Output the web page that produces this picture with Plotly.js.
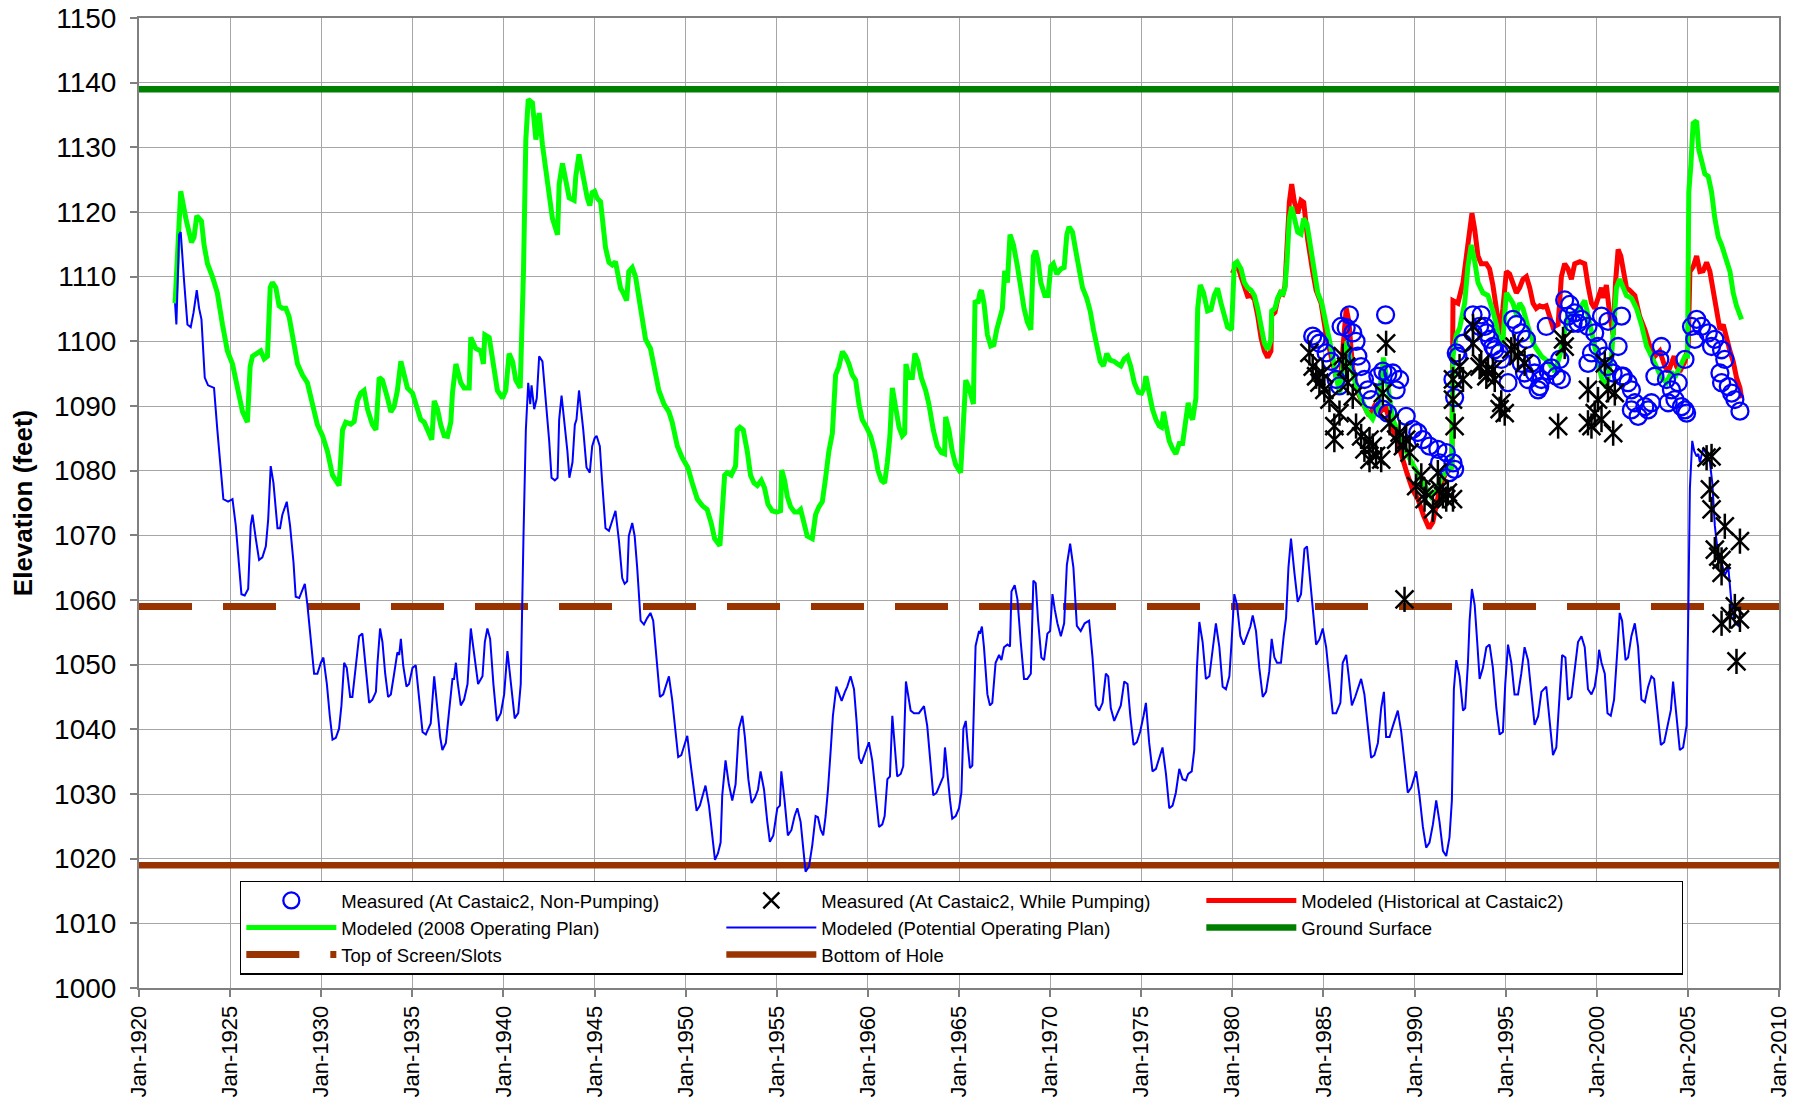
<!DOCTYPE html>
<html><head><meta charset="utf-8">
<script src="https://cdn.plot.ly/plotly-3.0.1.min.js"></script>
<style>html,body{margin:0;padding:0;background:#fff}#chart{width:1797px;height:1102px}</style>
</head><body><div id="chart"></div>
<script>
// ---- Modeled (2008 Operating Plan) ----
const planYears = [1921.98,1922.29,1922.57,1922.88,1923.02,1923.17,1923.30,1923.43,1923.57,1923.76,1924.03,1924.30,1924.58,1924.85,1925.13,1925.40,1925.68,1925.95,1926.10,1926.23,1926.50,1926.68,1926.87,1927.05,1927.20,1927.32,1927.51,1927.69,1927.87,1928.06,1928.24,1928.42,1928.70,1928.97,1929.24,1929.52,1929.79,1930.07,1930.34,1930.62,1930.98,1931.17,1931.35,1931.62,1931.81,1931.99,1932.17,1932.35,1932.54,1932.81,1933.00,1933.18,1933.36,1933.64,1933.82,1934.00,1934.18,1934.37,1934.55,1934.73,1935.01,1935.28,1935.46,1935.65,1935.83,1936.07,1936.20,1936.38,1936.56,1936.75,1936.93,1937.11,1937.20,1937.39,1937.66,1937.84,1938.12,1938.21,1938.48,1938.76,1938.90,1938.98,1939.22,1939.40,1939.67,1939.95,1940.13,1940.31,1940.50,1940.68,1940.92,1941.10,1941.23,1941.36,1941.59,1941.78,1941.96,1942.14,1942.42,1942.69,1942.97,1943.06,1943.24,1943.42,1943.61,1943.88,1943.97,1944.15,
1944.41,1944.60,1944.74,1944.87,1945.00,1945.15,1945.33,1945.48,1945.60,1945.79,1945.97,1946.15,1946.28,1946.43,1946.57,1946.76,1946.88,1947.07,1947.25,1947.43,1947.62,1947.80,1948.07,1948.29,1948.53,1948.81,1949.08,1949.26,1949.54,1949.81,1950.12,1950.36,1950.64,1950.91,1951.18,1951.40,1951.59,1951.88,1952.01,1952.14,1952.28,1952.50,1952.74,1952.83,1952.98,1953.16,1953.38,1953.56,1953.75,1953.93,1954.15,1954.33,1954.52,1954.75,1954.99,1955.21,1955.27,1955.43,1955.58,1955.76,1955.98,1956.16,1956.31,1956.49,1956.67,1956.95,1957.13,1957.31,1957.50,1957.68,1957.86,1958.05,1958.23,1958.41,1958.60,1958.78,1958.96,1959.14,1959.33,1959.51,1959.69,1959.93,1960.15,1960.37,1960.55,1960.74,1960.92,1961.07,1961.21,1961.34,1961.52,1961.71,1961.89,1962.02,1962.09,1962.26,1962.44,1962.58,1962.75,1962.93,1963.17,1963.35,1963.59,1963.81,1964.03,1964.21,1964.27,1964.45,1964.63,1964.82,1965.09,1965.24,1965.37,1965.55,1965.79,1965.88,1966.04,1966.15,
1966.23,1966.37,1966.56,1966.74,1966.92,1967.07,1967.25,1967.38,1967.51,1967.66,1967.80,1967.99,1968.21,1968.39,1968.57,1968.75,1968.94,1969.08,1969.21,1969.34,1969.49,1969.71,1969.89,1970.04,1970.18,1970.37,1970.59,1970.77,1970.92,1971.04,1971.23,1971.41,1971.59,1971.78,1972.01,1972.20,1972.38,1972.56,1972.75,1972.93,1973.11,1973.30,1973.52,1973.70,1973.88,1974.07,1974.25,1974.43,1974.62,1974.84,1975.02,1975.16,1975.26,1975.44,1975.62,1975.81,1975.99,1976.12,1976.23,1976.36,1976.54,1976.72,1976.90,1977.09,1977.27,1977.45,1977.58,1977.69,1977.82,1978.00,1978.10,1978.24,1978.42,1978.64,1978.83,1979.01,1979.19,1979.38,1979.56,1979.74,1979.96,1980.11,1980.26,1980.48,1980.66,1980.84,1981.03,1981.21,1981.39,1981.58,1981.76,1981.94,1982.12,1982.16,1982.34,1982.49,1982.64,1982.77,1982.89,1983.00,1983.13,1983.26,1983.41,1983.59,1983.77,1983.92,1984.10,1984.32,1984.51,1984.69,1984.91,1985.24,1985.51,1985.70,1985.90,1986.10,1986.30,1986.55,1986.80,1987.10,1987.40,1987.70,1988.00,1988.30,1988.55,1988.80,1989.10,1989.40,1989.70,1990.00,1990.30,1990.60,1990.90,1991.20,1991.50,1991.80,1992.05,
1992.11,1992.29,1992.47,1992.75,1992.93,1993.11,1993.30,1993.48,1993.75,1994.03,1994.30,1994.49,1994.67,1994.85,1995.04,1995.22,1995.40,1995.59,1995.77,1995.95,1996.23,1996.59,1996.96,1997.33,1997.69,1997.97,1998.24,1998.42,1998.79,1999.07,1999.34,1999.62,1999.89,2000.26,2000.53,2000.81,2001.08,2001.26,2001.45,2001.63,2001.90,2002.18,2002.45,2002.73,2003.00,2003.28,2003.55,2003.83,2004.10,2004.29,2004.56,2004.84,2004.98,2005.05,2005.16,2005.29,2005.48,2005.60,2005.75,2005.93,2006.12,2006.30,2006.48,2006.67,2006.85,2007.12,2007.31,2007.49,2007.67,2007.95];
const planVals = [1105.9,1123.2,1119.0,1115.3,1116.1,1119.4,1119.0,1118.6,1114.9,1112.0,1110.0,1107.5,1102.6,1098.5,1096.5,1092.8,1089.1,1087.5,1096.1,1097.7,1098.1,1098.5,1097.3,1097.7,1108.3,1109.1,1108.3,1105.5,1105.1,1105.1,1103.8,1101.0,1096.5,1094.8,1093.6,1090.3,1087.1,1085.4,1083.0,1079.3,1077.7,1086.3,1087.5,1087.2,1087.6,1090.8,1092.0,1092.4,1089.5,1087.1,1086.3,1094.4,1094.0,1091.2,1089.1,1089.9,1092.4,1096.9,1094.4,1092.8,1092.0,1089.5,1087.9,1087.5,1086.3,1084.8,1090.8,1089.5,1087.1,1085.4,1085.3,1087.5,1092.0,1096.5,1093.6,1092.8,1092.8,1100.6,1098.9,1098.5,1096.5,1101.0,1100.6,1096.9,1092.4,1091.2,1092.4,1098.1,1096.9,1094.0,1092.8,1110.8,1131.2,1137.4,1136.9,1131.2,1135.3,1130.4,1124.7,1119.0,1116.5,1124.3,1127.5,1124.7,1122.2,1121.8,1125.5,1128.9,
1124.3,1122.2,1121.0,1123.0,1123.2,1122.1,1121.6,1118.1,1114.5,1112.2,1111.8,1112.3,1110.0,1108.2,1107.5,1106.3,1110.8,1111.4,1110.0,1106.7,1103.0,1100.3,1098.9,1096.1,1092.4,1090.3,1089.1,1087.5,1083.8,1082.0,1080.5,1078.1,1075.6,1074.6,1074.0,1071.9,1069.5,1068.4,1074.8,1079.3,1079.7,1079.3,1080.7,1086.3,1086.7,1086.3,1083.0,1079.3,1078.1,1077.7,1078.5,1077.3,1074.8,1073.8,1073.6,1073.8,1080.1,1078.5,1076.0,1074.4,1073.6,1073.6,1074.0,1071.5,1069.9,1069.5,1073.2,1074.4,1075.2,1078.9,1083.0,1085.8,1094.8,1096.1,1098.4,1097.7,1096.5,1094.8,1094.0,1090.3,1087.9,1086.7,1085.4,1083.0,1080.1,1078.5,1078.1,1081.3,1085.4,1092.8,1089.5,1086.7,1085.4,1085.8,1096.5,1094.4,1094.4,1098.1,1096.9,1094.4,1092.4,1090.3,1086.3,1083.8,1082.8,1082.6,1088.3,1086.3,1083.0,1080.9,1079.7,1086.3,1094.0,1092.8,1090.3,1106.3,1105.9,1107.5,
1107.9,1105.9,1101.0,1099.3,1099.5,1101.8,1103.8,1105.0,1110.9,1109.1,1116.5,1114.9,1111.6,1108.3,1105.1,1103.0,1101.8,1113.2,1114.0,1112.4,1109.1,1107.1,1107.1,1111.6,1112.0,1110.4,1111.2,1111.4,1116.5,1117.7,1116.9,1114.0,1110.8,1108.3,1106.7,1104.7,1101.8,1098.9,1096.9,1096.2,1098.1,1097.1,1096.9,1096.5,1096.2,1097.3,1097.7,1096.1,1093.6,1092.1,1092.0,1092.8,1094.6,1092.0,1089.5,1087.9,1086.9,1086.7,1089.1,1087.1,1084.6,1083.4,1082.6,1084.2,1084.2,1087.9,1090.5,1088.7,1087.9,1091.2,1105.1,1108.7,1107.5,1104.7,1104.9,1107.1,1108.2,1105.9,1103.8,1102.2,1101.8,1112.0,1112.3,1111.2,1109.1,1108.3,1107.9,1107.1,1105.1,1101.8,1099.7,1098.7,1100.2,1104.7,1105.1,1106.7,1107.5,1107.1,1108.3,1112.4,1119.0,1120.8,1119.0,1116.9,1116.6,1119.0,1118.1,1114.0,1110.4,1107.5,1105.9,1101.8,1097.7,1094.4,1092.0,1097.0,1100.0,1096.0,1093.0,1091.0,1089.0,1088.0,1090.0,1097.5,1092.0,1088.0,1086.0,1084.0,1082.0,1080.5,1079.0,1077.5,1076.0,1077.0,1079.0,1080.0,1080.5,
1097.7,1101.0,1102.0,1105.9,1111.6,1114.9,1112.4,1109.1,1107.5,1107.1,1104.7,1102.6,1099.3,1100.2,1107.5,1106.7,1105.9,1104.2,1105.9,1105.1,1102.2,1099.3,1097.7,1096.9,1095.3,1097.7,1101.8,1104.2,1104.2,1105.1,1106.3,1102.6,1098.5,1094.4,1092.8,1097.7,1108.3,1109.6,1108.3,1107.1,1106.7,1105.1,1102.6,1099.3,1097.7,1096.1,1094.4,1093.6,1095.3,1094.4,1096.1,1097.7,1097.7,1123.1,1127.1,1133.7,1134.1,1129.6,1128.0,1125.9,1125.5,1123.1,1119.0,1116.1,1114.9,1112.8,1110.8,1107.5,1105.5,1103.4];

// ---- Modeled (Historical at Castaic2) ----
const histYears = [1980.00,1980.26,1980.48,1980.66,1980.84,1981.03,1981.21,1981.39,1981.58,1981.76,1981.94,1982.12,1982.16,1982.34,1982.49,1982.64,1982.77,1982.89,1983.00,1983.13,1983.26,1983.41,1983.59,1983.77,1983.92,1984.14,1984.41,1984.60,1984.87,1985.15,1985.42,1985.70,1985.90,1986.10,1986.25,1986.40,1986.60,1986.90,1987.20,1987.50,1987.80,1988.10,1988.40,1988.70,1989.00,1989.30,1989.60,1989.90,1990.20,1990.50,1990.80,1991.00,1991.20,1991.40,1991.70,1992.05,1992.11,1992.38,1992.66,1992.93,1993.15,1993.30,1993.48,1993.66,1993.94,1994.12,1994.30,1994.49,1994.67,1994.85,1995.04,1995.22,1995.40,1995.59,1995.77,1995.95,1996.14,1996.32,1996.50,1996.68,1996.87,1997.05,1997.23,1997.42,1997.60,1997.88,1998.06,1998.24,1998.42,1998.61,1998.79,1999.07,1999.34,1999.52,1999.71,1999.89,2000.07,2000.26,2000.35,2000.53,2000.71,2000.90,2001.03,2001.17,2001.32,2001.45,2001.63,2001.81,2002.09,2002.36,2002.64,2002.91,2003.19,2003.46,2003.74,2003.92,2004.10,2004.25,2004.38,2004.56,2004.84,2005.02,2005.11,2005.29,2005.48,2005.66,2005.84,2006.03,2006.21,2006.39,2006.58,2006.76,2006.94,2007.12,2007.31,2007.49,2007.67,2007.86,2007.95];
const histVals = [1110.5,1112.0,1110.0,1108.5,1107.0,1107.1,1106.5,1104.0,1100.5,1098.5,1097.5,1098.5,1104.0,1104.5,1106.5,1107.5,1107.3,1108.5,1114.0,1121.5,1124.3,1121.5,1119.8,1121.8,1121.5,1115.7,1110.8,1107.9,1105.9,1101.0,1097.7,1094.4,1093.0,1101.0,1105.1,1103.0,1096.0,1092.0,1090.0,1088.5,1090.0,1089.0,1090.0,1087.0,1085.0,1082.0,1079.5,1077.0,1075.5,1073.0,1071.1,1072.0,1075.0,1077.5,1079.5,1080.5,1106.3,1105.9,1109.1,1115.7,1119.8,1117.3,1113.2,1112.0,1112.0,1111.2,1108.7,1105.1,1101.0,1105.1,1110.8,1110.4,1108.7,1107.5,1108.3,1109.6,1110.0,1108.3,1105.9,1105.1,1105.5,1105.3,1105.5,1103.4,1102.2,1102.6,1110.0,1112.0,1111.2,1109.6,1112.0,1112.3,1112.0,1108.7,1105.9,1105.1,1106.7,1108.3,1106.7,1108.7,1104.2,1101.0,1109.1,1114.2,1113.2,1110.8,1108.3,1107.9,1107.1,1103.8,1101.8,1099.3,1097.7,1098.5,1096.1,1095.3,1096.9,1097.7,1096.1,1095.3,1096.9,1099.3,1110.8,1111.5,1113.2,1110.8,1110.9,1112.2,1110.8,1107.5,1104.2,1101.8,1102.6,1100.2,1098.5,1096.9,1094.4,1092.8,1091.2];

// ---- Modeled (Potential Operating Plan) ----
const potYears = [1921.98,1922.05,1922.20,1922.29,1922.48,1922.66,1922.84,1922.99,1923.17,1923.30,1923.43,1923.61,1923.79,1924.12,1924.30,1924.49,1924.63,1924.89,1925.13,1925.31,1925.49,1925.62,1925.80,1925.99,1926.13,1926.23,1926.41,1926.59,1926.77,1926.96,1927.09,1927.23,1927.38,1927.60,1927.74,1927.87,1928.11,1928.29,1928.48,1928.60,1928.79,1928.97,1929.10,1929.24,1929.46,1929.61,1929.79,1929.98,1930.12,1930.31,1930.47,1930.62,1930.80,1930.98,1931.11,1931.26,1931.40,1931.59,1931.71,1931.90,1932.08,1932.26,1932.45,1932.63,1932.81,1933.00,1933.09,1933.23,1933.36,1933.51,1933.67,1933.82,1934.00,1934.18,1934.28,1934.37,1934.50,1934.68,1934.82,1935.01,1935.19,1935.37,1935.56,1935.74,1936.01,1936.20,1936.34,1936.53,1936.65,1936.84,1937.02,1937.20,1937.29,1937.39,1937.48,1937.66,1937.84,1938.03,1938.21,1938.39,1938.61,1938.85,1938.98,1939.12,1939.27,1939.45,1939.64,1939.86,1940.04,1940.22,1940.40,1940.62,1940.81,1940.95,1941.10,1941.23,1941.36,1941.47,1941.54,1941.69,1941.83,1941.96,1942.14,1942.33,1942.51,1942.64,1942.82,1942.97,1943.06,1943.19,1943.33,1943.51,1943.62,1943.79,1943.92,1944.01,1944.15,
1944.38,1944.56,1944.74,1944.87,1945.00,1945.11,1945.29,1945.42,1945.60,1945.79,1945.97,1946.15,1946.34,1946.52,1946.65,1946.79,1946.88,1947.07,1947.20,1947.34,1947.53,1947.71,1947.89,1948.07,1948.22,1948.40,1948.59,1948.77,1948.95,1949.08,1949.26,1949.45,1949.59,1949.76,1949.94,1950.09,1950.27,1950.45,1950.60,1950.78,1950.97,1951.09,1951.28,1951.46,1951.61,1951.77,1951.92,1952.01,1952.19,1952.37,1952.56,1952.74,1952.92,1953.11,1953.25,1953.44,1953.62,1953.80,1953.97,1954.11,1954.30,1954.48,1954.62,1954.81,1955.03,1955.17,1955.25,1955.43,1955.61,1955.80,1955.98,1956.13,1956.31,1956.45,1956.58,1956.77,1956.95,1957.13,1957.26,1957.41,1957.55,1957.68,1957.81,1957.96,1958.08,1958.27,1958.41,1958.56,1958.74,1958.87,1959.05,1959.24,1959.38,1959.51,1959.64,1959.82,1960.06,1960.24,1960.43,1960.61,1960.79,1960.92,1961.07,1961.21,1961.34,1961.47,1961.61,1961.80,1961.94,1962.09,1962.20,1962.35,1962.53,1962.80,1963.08,1963.26,1963.44,1963.59,1963.77,1963.96,1964.14,1964.23,1964.36,1964.51,1964.63,1964.82,1965.00,1965.13,1965.24,1965.37,1965.49,1965.60,1965.73,1965.82,1965.91,1966.10,
1966.15,1966.26,1966.37,1966.56,1966.70,1966.83,1967.01,1967.20,1967.33,1967.47,1967.66,1967.80,1967.88,1968.06,1968.21,1968.39,1968.57,1968.75,1968.94,1969.08,1969.21,1969.34,1969.52,1969.67,1969.85,1970.00,1970.13,1970.26,1970.40,1970.59,1970.77,1970.92,1971.10,1971.28,1971.47,1971.68,1971.90,1972.14,1972.33,1972.51,1972.69,1972.88,1973.06,1973.19,1973.33,1973.52,1973.70,1973.88,1974.07,1974.25,1974.40,1974.58,1974.76,1974.95,1975.13,1975.26,1975.44,1975.62,1975.81,1975.99,1976.17,1976.36,1976.54,1976.72,1976.90,1977.09,1977.27,1977.45,1977.58,1977.77,1977.91,1978.06,1978.19,1978.37,1978.55,1978.74,1978.92,1979.10,1979.29,1979.47,1979.65,1979.84,1979.96,1980.11,1980.26,1980.44,1980.62,1980.81,1980.99,1981.12,1981.30,1981.48,1981.67,1981.85,1982.03,1982.16,1982.31,1982.45,1982.67,1982.82,1982.95,1983.08,1983.22,1983.41,1983.59,1983.77,
1983.96,1984.10,1984.29,1984.47,1984.60,1984.78,1984.96,1985.15,1985.33,1985.51,1985.70,1985.93,1986.06,1986.25,1986.37,1986.56,1986.74,1986.92,1987.07,1987.25,1987.44,1987.62,1987.80,1987.99,1988.17,1988.32,1988.44,1988.63,1988.81,1989.08,1989.27,1989.45,1989.63,1989.82,1990.09,1990.27,1990.46,1990.64,1990.82,1991.01,1991.19,1991.37,1991.56,1991.74,1991.92,1992.05,1992.16,1992.29,1992.47,1992.66,1992.78,1992.93,1993.02,1993.15,1993.30,1993.44,1993.57,1993.75,1993.94,1994.12,1994.30,1994.49,1994.67,1994.85,1994.98,1995.13,1995.31,1995.49,1995.68,1995.86,1996.04,1996.23,1996.41,1996.59,1996.78,1996.96,1997.23,1997.42,1997.60,1997.78,1997.97,1998.10,1998.28,1998.42,1998.61,1998.79,1998.97,1999.16,1999.34,1999.52,1999.71,1999.89,2000.04,2000.13,2000.26,2000.44,2000.59,2000.77,2000.95,2001.14,2001.26,2001.39,2001.58,2001.72,2001.90,2002.09,2002.27,2002.45,2002.64,2002.82,2003.00,2003.15,2003.33,2003.52,2003.70,2003.88,2004.07,2004.19,2004.38,2004.56,2004.74,2004.93,2005.02,2005.11,2005.24,2005.35,2005.48,2005.57,2005.66,2005.84,2006.03,2006.21,2006.34,2006.48,2006.67,2006.85,2007.03,2007.22,2007.40,2007.58,2007.77,2007.91];
const potVals = [1105.9,1102.6,1116.5,1116.9,1109.1,1102.6,1102.2,1104.4,1107.9,1105.1,1103.4,1094.4,1093.2,1092.8,1086.3,1079.7,1075.6,1075.2,1075.6,1071.5,1065.0,1060.9,1060.7,1061.7,1071.5,1073.2,1069.5,1066.2,1066.6,1068.3,1072.4,1080.7,1078.1,1071.1,1071.1,1073.2,1075.2,1071.5,1065.8,1060.5,1060.3,1061.7,1062.5,1059.3,1053.5,1048.6,1048.6,1050.3,1051.1,1047.0,1042.1,1038.4,1038.7,1040.1,1043.7,1050.3,1049.5,1045.0,1045.0,1049.5,1054.4,1054.8,1049.5,1044.1,1044.6,1045.8,1050.3,1055.6,1053.5,1048.6,1045.0,1045.4,1048.6,1051.9,1051.5,1054.0,1049.9,1046.6,1047.0,1049.5,1049.9,1044.6,1039.6,1039.2,1040.9,1048.2,1044.6,1038.8,1036.8,1037.9,1042.9,1047.8,1047.8,1050.3,1047.4,1043.7,1044.6,1047.0,1055.6,1051.9,1047.0,1048.2,1053.5,1055.6,1054.0,1047.0,1041.3,1042.5,1045.4,1052.1,1047.4,1041.7,1042.5,1047.0,1069.9,1086.3,1093.6,1090.3,1093.2,1089.5,1091.2,1097.7,1096.9,1091.2,1084.6,1078.9,1078.5,1078.9,1087.9,1091.6,1087.9,1083.0,1078.9,1081.3,1087.1,1087.9,1092.4,
1086.3,1080.5,1079.7,1083.8,1085.0,1085.4,1083.8,1078.1,1071.1,1070.7,1072.4,1073.8,1069.1,1063.4,1062.5,1062.9,1069.9,1071.9,1069.9,1065.0,1056.8,1056.2,1057.2,1058.0,1056.8,1051.1,1045.0,1045.4,1047.0,1048.2,1044.6,1039.6,1035.7,1036.0,1037.6,1039.0,1034.7,1030.2,1027.4,1028.2,1030.2,1031.3,1028.2,1023.3,1019.8,1020.8,1022.5,1029.8,1035.2,1031.5,1029.0,1031.5,1040.1,1042.1,1038.8,1032.3,1028.6,1029.4,1030.7,1033.5,1030.7,1025.7,1022.6,1023.6,1027.8,1028.2,1033.5,1029.0,1023.6,1024.4,1026.6,1027.8,1025.7,1021.7,1018.0,1018.8,1022.1,1026.6,1026.4,1024.5,1023.6,1026.6,1030.7,1036.8,1042.1,1046.6,1045.4,1044.4,1045.8,1046.6,1048.2,1046.2,1041.3,1035.6,1034.7,1036.0,1038.0,1035.2,1029.4,1024.9,1025.3,1026.6,1032.3,1032.7,1042.1,1037.2,1032.7,1033.1,1034.3,1047.4,1045.4,1042.9,1042.5,1042.5,1043.6,1040.5,1034.7,1029.8,1030.2,1031.5,1032.7,1037.2,1033.1,1029.0,1026.2,1026.6,1027.8,1030.2,1040.1,1041.3,1037.2,1034.0,1034.4,1042.9,1052.9,1055.2,
1054.8,1055.9,1052.7,1045.4,1043.7,1044.1,1050.3,1051.5,1050.7,1052.7,1053.1,1052.8,1061.3,1062.3,1060.1,1053.5,1047.8,1047.8,1048.6,1063.0,1062.6,1056.8,1051.1,1050.7,1054.8,1055.2,1060.9,1058.5,1056.4,1054.4,1056.4,1065.4,1068.7,1065.0,1056.0,1055.2,1056.4,1056.8,1051.1,1043.7,1042.9,1044.1,1048.6,1048.2,1043.3,1041.3,1042.5,1043.7,1047.4,1047.0,1042.1,1037.6,1038.0,1039.7,1042.1,1044.1,1037.9,1033.5,1033.9,1035.6,1037.2,1033.1,1027.8,1028.2,1030.2,1033.9,1032.3,1032.1,1033.1,1033.5,1036.8,1049.5,1056.6,1053.5,1047.8,1048.2,1051.9,1056.4,1052.7,1046.6,1046.2,1048.2,1053.5,1060.9,1059.2,1054.4,1053.1,1054.4,1055.9,1057.6,1055.2,1049.5,1045.0,1045.8,1049.0,1054.0,1051.1,1050.3,1050.3,1054.4,1057.2,1065.0,1069.5,1064.2,1059.7,1060.9,
1067.9,1068.3,1062.5,1057.6,1053.1,1053.9,1055.6,1052.7,1047.0,1042.5,1042.5,1044.1,1050.3,1051.5,1048.6,1043.7,1045.0,1046.6,1047.8,1045.4,1040.5,1035.6,1036.0,1037.9,1043.3,1045.8,1038.8,1038.8,1040.5,1042.9,1039.6,1034.7,1030.2,1031.0,1033.5,1029.8,1024.9,1021.7,1022.5,1025.3,1029.0,1025.7,1021.2,1020.4,1023.3,1029.0,1046.2,1050.7,1048.2,1042.9,1043.3,1050.3,1056.8,1061.7,1059.2,1053.5,1047.8,1049.5,1052.7,1053.1,1049.5,1043.3,1039.2,1039.6,1047.0,1053.1,1050.3,1045.4,1045.4,1048.6,1052.7,1050.7,1045.4,1040.7,1042.0,1045.8,1046.6,1040.7,1036.0,1037.2,1045.4,1051.5,1051.1,1044.6,1045.0,1049.5,1053.5,1054.4,1052.7,1046.2,1045.4,1046.6,1049.5,1052.3,1050.3,1048.6,1042.5,1042.1,1044.6,1052.7,1058.0,1056.8,1050.7,1051.1,1054.4,1056.4,1052.7,1044.6,1044.2,1046.6,1048.2,1047.8,1043.3,1037.6,1038.0,1040.5,1043.0,1047.4,1042.1,1036.8,1037.2,1040.6,1057.6,1077.3,1084.6,1083.0,1082.2,1082.6,1081.3,1083.4,1082.6,1081.3,1078.1,1071.5,1066.6,1065.8,1063.8,1065.0,1059.3,1056.4,1056.0,1058.0];

// ---- Measured (At Castaic2, Non-Pumping) ----
const nonPumpYears = [1984.41,1984.60,1984.78,1985.15,1985.42,1985.70,1985.88,1985.97,1986.25,1986.43,1986.61,1986.79,1986.89,1987.07,1987.25,1987.44,1987.62,1987.99,1988.26,1988.41,1988.53,1988.81,1988.99,1989.18,1988.26,1988.53,1989.54,1989.91,1990.18,1990.46,1990.82,1991.28,1991.37,1991.74,1991.92,1992.11,1992.20,1992.11,1992.20,1992.29,1992.38,1992.66,1993.21,1993.21,1993.57,1993.66,1993.85,1993.94,1994.12,1994.30,1994.40,1994.67,1994.76,1995.13,1995.40,1995.59,1995.86,1995.86,1996.04,1996.14,1996.23,1996.41,1996.59,1996.78,1996.87,1996.96,1997.23,1997.33,1997.51,1997.78,1997.97,1998.06,1998.24,1998.42,1998.52,1998.70,1998.79,1998.97,1999.16,1999.52,1999.52,1999.71,1999.89,2000.07,2000.26,2000.44,2000.62,2000.62,2000.90,2001.17,2001.36,2001.36,2001.45,2001.72,2001.90,2001.90,2002.09,2002.27,2002.64,2002.82,2003.00,2003.19,2003.46,2003.55,2003.83,2003.92,2004.10,2004.29,2004.47,2004.65,2004.84,2004.84,2004.93,2005.20,2005.38,2005.48,2005.75,2006.12,2006.30,2006.48,2006.76,2006.85,2006.85,2007.03,2007.22,2007.40,2007.58,2007.86];
const nonPumpVals = [1100.8,1100.3,1099.7,1098.2,1096.9,1094.1,1093.1,1102.3,1102.1,1104.1,1101.3,1100.0,1097.7,1096.1,1094.1,1092.5,1091.0,1094.6,1095.4,1104.1,1094.9,1095.1,1092.5,1094.1,1089.5,1088.9,1088.4,1086.4,1085.9,1084.8,1083.8,1083.3,1081.2,1082.8,1079.7,1081.2,1080.2,1094.1,1091.3,1098.2,1097.7,1099.7,1104.1,1101.3,1102.3,1104.1,1102.3,1101.3,1100.3,1099.2,1098.7,1098.2,1097.2,1093.6,1103.4,1102.6,1101.3,1096.6,1095.1,1100.3,1094.1,1096.6,1095.1,1092.5,1093.0,1094.1,1102.3,1095.4,1095.9,1094.6,1097.2,1094.1,1106.4,1103.9,1105.7,1102.8,1104.4,1102.8,1103.4,1102.3,1096.6,1098.2,1101.3,1099.2,1103.9,1097.7,1103.1,1096.1,1095.1,1099.2,1103.9,1094.6,1094.6,1093.6,1092.5,1089.4,1090.5,1088.4,1089.9,1089.4,1090.5,1094.6,1097.2,1099.2,1094.1,1090.5,1092.5,1091.0,1093.6,1089.9,1097.2,1089.4,1088.9,1102.3,1100.3,1103.4,1102.3,1101.3,1099.2,1100.3,1095.1,1098.7,1093.6,1097.2,1093.0,1092.0,1091.0,1089.2];

// ---- Measured (At Castaic2, While Pumping) ----
const pumpYears = [1984.23,1984.41,1984.60,1984.78,1984.96,1985.05,1985.33,1985.60,1985.60,1985.88,1986.06,1986.25,1986.34,1986.61,1986.79,1987.07,1987.25,1987.53,1987.53,1987.71,1987.89,1988.17,1988.26,1988.44,1988.63,1988.99,1989.18,1989.36,1989.45,1989.54,1989.73,1990.09,1990.37,1990.55,1990.64,1991.01,1991.28,1991.37,1991.56,1991.74,1991.83,1992.11,1992.20,1992.11,1992.11,1992.47,1992.66,1993.21,1993.21,1993.57,1993.66,1993.94,1994.03,1994.30,1994.40,1994.67,1994.76,1994.95,1995.31,1995.49,1995.68,1996.04,1997.88,1998.15,1998.24,1999.52,1999.52,1999.71,1999.89,2000.07,2000.26,2000.44,2000.62,2000.90,2000.99,2006.03,2006.30,2006.21,2006.30,2006.48,2006.67,2006.85,2006.85,2006.85,2007.03,2007.31,2007.58,2007.67,2007.86,2007.86];
const pumpVals = [1098.2,1096.1,1094.6,1093.6,1095.1,1092.5,1091.0,1086.9,1084.8,1088.9,1097.7,1096.1,1093.6,1091.5,1086.9,1085.3,1083.3,1081.7,1084.8,1083.8,1082.3,1081.7,1092.0,1099.7,1087.4,1084.8,1085.9,1083.8,1060.1,1084.8,1082.8,1077.6,1079.2,1075.6,1076.6,1074.0,1079.7,1077.1,1076.1,1075.6,1076.6,1075.6,1086.9,1091.0,1094.1,1096.1,1094.1,1102.3,1099.7,1096.1,1096.6,1094.6,1095.6,1095.6,1094.1,1089.5,1090.5,1088.9,1098.7,1099.2,1097.7,1096.6,1086.9,1100.3,1099.2,1092.5,1087.4,1086.9,1088.9,1091.0,1087.9,1096.6,1092.5,1085.8,1092.0,1082.0,1082.2,1077.1,1074.0,1067.8,1066.7,1066.2,1064.2,1056.4,1071.4,1057.5,1059.0,1050.5,1069.1,1057.0];

// ---- Reference levels ----
const levelSpanYears = [1920, 2010];
const groundSurface = 1139;
const topOfScreen = 1059;
const bottomOfHole = 1019;

// ---- Axis ----
const yRange = [1000, 1150];
const xRange = ['1920-01-01', '2010-01-01'];

function toDate(y) {
  const yr = Math.floor(y);
  const s = Date.UTC(yr, 0, 1), e = Date.UTC(yr + 1, 0, 1);
  return new Date(s + (y - yr) * (e - s)).toISOString().slice(0, 10);
}
const D = a => a.map(toDate);
const FONT = 'Liberation Sans, Arial, sans-serif';
const spanX = D(levelSpanYears);

const traces = [
  {x: spanX, y: [bottomOfHole, bottomOfHole], mode: 'lines', name: 'Bottom of Hole',
   line: {color: '#993300', width: 6.5}, legendrank: 8},
  {x: spanX, y: [topOfScreen, topOfScreen], mode: 'lines', name: 'Top of Screen/Slots',
   line: {color: '#993300', width: 7, dash: '53px,31px'}, legendrank: 7},
  {x: spanX, y: [groundSurface, groundSurface], mode: 'lines', name: 'Ground Surface',
   line: {color: '#008000', width: 6.5}, legendrank: 6},
  {x: D(histYears), y: histVals, mode: 'lines', name: 'Modeled (Historical at Castaic2)',
   line: {color: '#FF0000', width: 5}, legendrank: 3},
  {x: D(planYears), y: planVals, mode: 'lines', name: 'Modeled (2008 Operating Plan)',
   line: {color: '#00FF00', width: 5}, legendrank: 4},
  {x: D(potYears), y: potVals, mode: 'lines', name: 'Modeled (Potential Operating Plan)',
   line: {color: '#0000FF', width: 2}, legendrank: 5},
  {x: D(nonPumpYears), y: nonPumpVals, mode: 'markers', name: 'Measured (At Castaic2, Non-Pumping)',
   marker: {symbol: 'circle-open', size: 17, color: '#0000FF', line: {width: 2.3, color: '#0000FF'}}, legendrank: 1},
  {x: D(pumpYears), y: pumpVals, mode: 'markers', name: 'Measured (At Castaic2, While Pumping)',
   marker: {symbol: 'x-thin-open', size: 18, color: '#000000', line: {width: 2.5, color: '#000000'}}, legendrank: 2},
  {x: D(pumpYears), y: pumpVals, mode: 'markers', showlegend: false, name: 'pump-bar',
   marker: {symbol: 'line-ns-open', size: 18, color: '#000000', line: {width: 2.5, color: '#000000'}}}
];

const layout = {
  width: 1797, height: 1102,
  margin: {l: 139, r: 18, t: 18, b: 114},
  paper_bgcolor: '#ffffff', plot_bgcolor: '#ffffff',
  font: {family: FONT, color: '#000'},
  showlegend: true,
  hovermode: false,
  xaxis: {
    type: 'date', range: xRange, tick0: '1920-01-01', dtick: 'M60', tickformat: '%b-%Y',
    tickangle: -90, tickfont: {family: FONT, size: 22, color: '#000'},
    showgrid: true, gridcolor: '#a6a6a6', gridwidth: 1,
    showline: true, linecolor: '#808080', linewidth: 2, mirror: true,
    ticks: 'outside', ticklen: 7, tickcolor: '#808080', tickwidth: 2, zeroline: false
  },
  yaxis: {
    range: yRange, dtick: 10, tick0: 1000,
    tickfont: {family: FONT, size: 28, color: '#000'},
    showgrid: true, gridcolor: '#a6a6a6', gridwidth: 1,
    showline: true, linecolor: '#808080', linewidth: 2, mirror: true,
    ticks: 'outside', ticklen: 7, tickcolor: '#808080', tickwidth: 2, zeroline: false,
    ticklabelstandoff: 8,
    title: {text: '<b>Elevation (feet)</b>', font: {family: FONT, size: 26, color: '#000'}, standoff: 14}
  },
  legend: {
    orientation: 'h', x: 0.0616, y: 0.1107, xanchor: 'left', yanchor: 'top',
    bgcolor: '#ffffff', bordercolor: '#000000', borderwidth: 1.3,
    font: {family: FONT, size: 18.5, color: '#000'},
    itemwidth: 90, entrywidth: 375, traceorder: 'normal'
  }
};

Plotly.newPlot('chart', traces, layout, {staticPlot: true, displayModeBar: false});
</script>
</body></html>
